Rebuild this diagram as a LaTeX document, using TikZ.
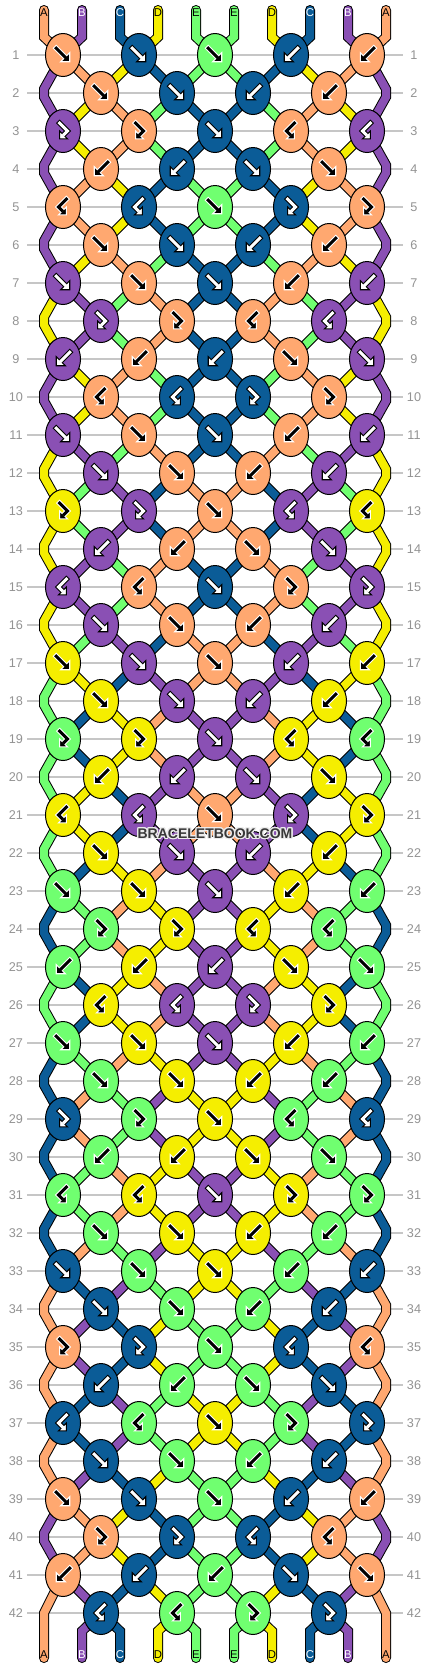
\documentclass[tikz,border=0pt]{standalone}
\usepackage{fontspec}
\setmainfont{Liberation Sans}
\usepackage{contour}
\usetikzlibrary{shapes.geometric}

\definecolor{cA}{HTML}{FFA870}
\definecolor{cB}{HTML}{8A50B4}
\definecolor{cC}{HTML}{0B5C97}
\definecolor{cD}{HTML}{F5EE00}
\definecolor{cE}{HTML}{70FF70}
\colorlet{aA}{black}\colorlet{oA}{white}
\colorlet{aB}{white}\colorlet{oB}{black}
\colorlet{aC}{white}\colorlet{oC}{black}
\colorlet{aD}{black}\colorlet{oD}{white}
\colorlet{aE}{black}\colorlet{oE}{white}

\pgfdeclarelayer{bg}
\pgfsetlayers{bg,main}

\tikzset{
  knotnode/.style={ellipse, draw=black, line width=0.75pt, fill=c#1,
    minimum width=26.25pt, minimum height=32.25pt, inner sep=0pt},
  strand/.style={draw=black, line width=0.75pt, double=c#1, double distance=6pt},
  rowline/.style={draw=gray!45, line width=1.1pt},
  rownum/.style={text=gray!85, font=\fontsize{9.5}{11}\selectfont, inner sep=0pt},
  endlabel/.style={text=a#1, font=\fontsize{8.5}{10}\selectfont, inner sep=0pt},
  pics/arrf/.style={code={
    \draw[draw=o\kc, line width=3.9pt] (-7.6,-7.6) -- (2,2);
    \filldraw[fill=a\kc, draw=o\kc, line width=0.8pt] (6,6) -- (6,-2) -- (-2,6) -- cycle;
    \draw[draw=a\kc, line width=2.3pt] (-7,-7) -- (2.8,2.8);
  }},
  pics/arrh/.style={code={
    \draw[draw=o\kc, line width=3.9pt, line join=miter] (-4.6,-8.6) -- (4,0) -- (0.5,3.5);
    \filldraw[fill=a\kc, draw=o\kc, line width=0.8pt] (-3,7) -- (-3,0) -- (4,7) -- cycle;
    \draw[draw=a\kc, line width=2.3pt, line join=miter] (-4,-8) -- (4,0) -- (0,4);
  }},
}

% knot: name, x, y, colour letter, glyph, direction
\newcommand\knotat[6]{%
  \node[knotnode=#4] (#1) at (#2,#3) {};
  \def\kc{#4}%
  \pic[scale=1.12, xscale=#6] at (#2,#3) {arr#5};
}

\begin{document}
\begin{tikzpicture}[x=0.75pt, y=-0.75pt]
\useasboundingbox (0,0) rectangle (430,1668);

% knots, odd rows
\foreach \r/\cola/\gla/\sga/\colb/\glb/\sgb/\colm/\glm/\sgm in {
  1/A/f/1/C/f/1/E/f/1, 3/B/h/1/A/h/1/C/f/1, 5/A/h/-1/C/h/-1/E/f/1,
  7/B/f/1/A/f/1/C/f/1, 9/B/f/-1/A/f/-1/C/f/-1, 11/B/f/1/A/f/1/C/f/1,
  13/D/h/1/B/h/1/A/f/1, 15/B/h/-1/A/h/-1/C/f/1, 17/D/f/1/B/f/1/A/f/1,
  19/E/h/1/D/h/1/B/f/1, 21/D/h/-1/B/h/-1/A/f/1, 23/E/f/1/D/f/1/B/f/1,
  25/E/f/-1/D/f/-1/B/f/-1, 27/E/f/1/D/f/1/B/f/1, 29/C/h/1/E/h/1/D/f/1,
  31/E/h/-1/D/h/-1/B/f/1, 33/C/f/1/E/f/1/D/f/1, 35/A/h/1/C/h/1/E/f/1,
  37/C/h/-1/E/h/-1/D/f/1, 39/A/f/1/C/f/1/E/f/1, 41/A/f/-1/C/f/-1/E/f/-1}{
  \pgfmathsetmacro\y{55+38*(\r-1)}
  \pgfmathsetmacro\mga{-\sga}
  \pgfmathsetmacro\mgb{-\sgb}
  \knotat{k-\r-1}{63}{\y}{\cola}{\gla}{\sga}
  \knotat{k-\r-2}{139}{\y}{\colb}{\glb}{\sgb}
  \knotat{k-\r-3}{215}{\y}{\colm}{\glm}{\sgm}
  \knotat{k-\r-4}{291}{\y}{\colb}{\glb}{\mgb}
  \knotat{k-\r-5}{367}{\y}{\cola}{\gla}{\mga}
}
% knots, even rows
\foreach \r/\cola/\gla/\sga/\colb/\glb/\sgb in {
  2/A/f/1/C/f/1, 4/A/f/-1/C/f/-1, 6/A/f/1/C/f/1, 8/B/h/1/A/h/1,
  10/A/h/-1/C/h/-1, 12/B/f/1/A/f/1, 14/B/f/-1/A/f/-1, 16/B/f/1/A/f/1,
  18/D/f/1/B/f/1, 20/D/f/-1/B/f/-1, 22/D/f/1/B/f/1, 24/E/h/1/D/h/1,
  26/D/h/-1/B/h/-1, 28/E/f/1/D/f/1, 30/E/f/-1/D/f/-1, 32/E/f/1/D/f/1,
  34/C/f/1/E/f/1, 36/C/f/-1/E/f/-1, 38/C/f/1/E/f/1, 40/A/h/1/C/h/1,
  42/C/h/-1/E/h/-1}{
  \pgfmathsetmacro\y{55+38*(\r-1)}
  \pgfmathsetmacro\mga{-\sga}
  \pgfmathsetmacro\mgb{-\sgb}
  \knotat{k-\r-1}{101}{\y}{\cola}{\gla}{\sga}
  \knotat{k-\r-2}{177}{\y}{\colb}{\glb}{\sgb}
  \knotat{k-\r-3}{253}{\y}{\colb}{\glb}{\mgb}
  \knotat{k-\r-4}{329}{\y}{\cola}{\gla}{\mga}
}

\begin{pgfonlayer}{bg}
\fill[white] (0,0) rectangle (430,1668);
% row lines
\foreach \r in {1,...,42}{
  \pgfmathsetmacro\y{55+38*(\r-1)}
  \coordinate (gl-\r) at (27,\y);
  \coordinate (gr-\r) at (403,\y);
  \draw[rowline] (gl-\r) -- (gr-\r);
}
% threads at the top and bottom
\foreach \i/\q/\k in {1/A/1, 2/B/1, 3/C/2, 4/D/2, 5/E/3}{
  \pgfmathsetmacro\x{44+38*(\i-1)}
  \pgfmathsetmacro\xr{430-\x}
  \pgfmathtruncatemacro\kr{6-\k}
  \coordinate (t-\i) at (\x,10);
  \coordinate (tb-\i) at (\x,37);
  \coordinate (u-\i) at (\xr,10);
  \coordinate (ub-\i) at (\xr,37);
  \draw[strand=\q, line cap=round] (t-\i) -- (tb-\i) -- (k-1-\k.center);
  \draw[strand=\q, line cap=round] (u-\i) -- (ub-\i) -- (k-1-\kr.center);
}
\foreach \i/\q/\k/\yb in {1/A/41-1/1613, 2/B/42-1/1631, 3/C/42-1/1631,
                          4/D/42-2/1631, 5/E/42-2/1631}{
  \pgfmathsetmacro\x{44+38*(\i-1)}
  \coordinate (b-\i) at (\x,1658);
  \coordinate (bb-\i) at (\x,\yb);
  \draw[strand=\q, line cap=round] (k-\k.center) -- (bb-\i) -- (b-\i);
}
\foreach \i/\q/\k/\yb in {1/A/41-5/1613, 2/B/42-4/1631, 3/C/42-4/1631,
                          4/D/42-3/1631, 5/E/42-3/1631}{
  \pgfmathsetmacro\x{386-38*(\i-1)}
  \coordinate (v-\i) at (\x,1658);
  \coordinate (vb-\i) at (\x,\yb);
  \draw[strand=\q, line cap=round] (k-\k.center) -- (vb-\i) -- (v-\i);
}
% threads below odd rows
\foreach \r/\qa/\qb/\qc/\qd/\qe in {
  1/B/A/D/C/E, 3/B/D/A/E/C, 5/B/A/D/C/E, 7/D/B/E/A/C, 9/B/D/A/E/C,
  11/D/B/E/A/C, 13/D/E/B/C/A, 15/D/B/E/A/C, 17/E/D/C/B/A, 19/E/C/D/A/B,
  21/E/D/C/B/A, 23/C/E/A/D/B, 25/E/C/D/A/B, 27/C/E/A/D/B, 29/C/A/E/B/D,
  31/C/E/A/D/B, 33/A/C/B/E/D, 35/A/B/C/D/E, 37/A/C/B/E/D, 39/B/A/D/C/E,
  41/A/B/C/D/E}{
  \pgfmathtruncatemacro\n{\r+1}
  \draw[strand=\qb] (k-\r-1.center) -- (k-\n-1.center);
  \draw[strand=\qc] (k-\r-2.center) -- (k-\n-1.center);
  \draw[strand=\qd] (k-\r-2.center) -- (k-\n-2.center);
  \draw[strand=\qe] (k-\r-3.center) -- (k-\n-2.center);
  \draw[strand=\qe] (k-\r-3.center) -- (k-\n-3.center);
  \draw[strand=\qd] (k-\r-4.center) -- (k-\n-3.center);
  \draw[strand=\qc] (k-\r-4.center) -- (k-\n-4.center);
  \draw[strand=\qb] (k-\r-5.center) -- (k-\n-4.center);
  \ifnum\r<41
    \pgfmathtruncatemacro\m{\r+2}
    \pgfmathsetmacro\y{55+38*\r}
    \coordinate (zl-\n-a) at (44,\y-4);
    \coordinate (zl-\n-b) at (44,\y+4);
    \coordinate (zr-\n-a) at (386,\y-4);
    \coordinate (zr-\n-b) at (386,\y+4);
    \draw[strand=\qa] (k-\r-1.center) -- (zl-\n-a) -- (zl-\n-b) -- (k-\m-1.center);
    \draw[strand=\qa] (k-\r-5.center) -- (zr-\n-a) -- (zr-\n-b) -- (k-\m-5.center);
  \fi
}
% threads below even rows
\foreach \r/\qb/\qc/\qd/\qe in {
  2/D/A/E/C, 4/A/D/C/E, 6/D/A/E/C, 8/B/E/A/C, 10/D/A/E/C, 12/E/B/C/A,
  14/B/E/A/C, 16/E/B/C/A, 18/C/D/A/B, 20/D/C/B/A, 22/C/D/A/B, 24/E/A/D/B,
  26/C/D/A/B, 28/A/E/B/D, 30/E/A/D/B, 32/A/E/B/D, 34/B/C/D/E, 36/C/B/E/D,
  38/B/C/D/E, 40/A/D/C/E}{
  \pgfmathtruncatemacro\n{\r+1}
  \draw[strand=\qb] (k-\r-1.center) -- (k-\n-1.center);
  \draw[strand=\qc] (k-\r-1.center) -- (k-\n-2.center);
  \draw[strand=\qd] (k-\r-2.center) -- (k-\n-2.center);
  \draw[strand=\qe] (k-\r-2.center) -- (k-\n-3.center);
  \draw[strand=\qe] (k-\r-3.center) -- (k-\n-3.center);
  \draw[strand=\qd] (k-\r-3.center) -- (k-\n-4.center);
  \draw[strand=\qc] (k-\r-4.center) -- (k-\n-4.center);
  \draw[strand=\qb] (k-\r-4.center) -- (k-\n-5.center);
}
\end{pgfonlayer}

% row numbers
\foreach \r in {1,...,42}{
  \pgfmathsetmacro\y{55+38*(\r-1)}
  \node[rownum] (nl-\r) at (16,\y) {\r};
  \node[rownum] (nr-\r) at (414,\y) {\r};
}
% thread letters
\foreach \i/\q in {1/A, 2/B, 3/C, 4/D, 5/E}{
  \pgfmathsetmacro\x{44+38*(\i-1)}
  \pgfmathsetmacro\xr{430-\x}
  \node[endlabel=\q] (lt-\i) at (\x,13) {\q};
  \node[endlabel=\q] (rt-\i) at (\xr,13) {\q};
  \node[endlabel=\q] (lb-\i) at (\x,1655) {\q};
  \node[endlabel=\q] (rb-\i) at (\xr,1655) {\q};
}
\contourlength{0.9pt}
\node[text=black!78, font=\bfseries\fontsize{10.5}{12}\selectfont] (mark) at (215,834)
  {\contour{white!85!gray}{BRACELETBOOK.COM}};
\end{tikzpicture}
\end{document}
